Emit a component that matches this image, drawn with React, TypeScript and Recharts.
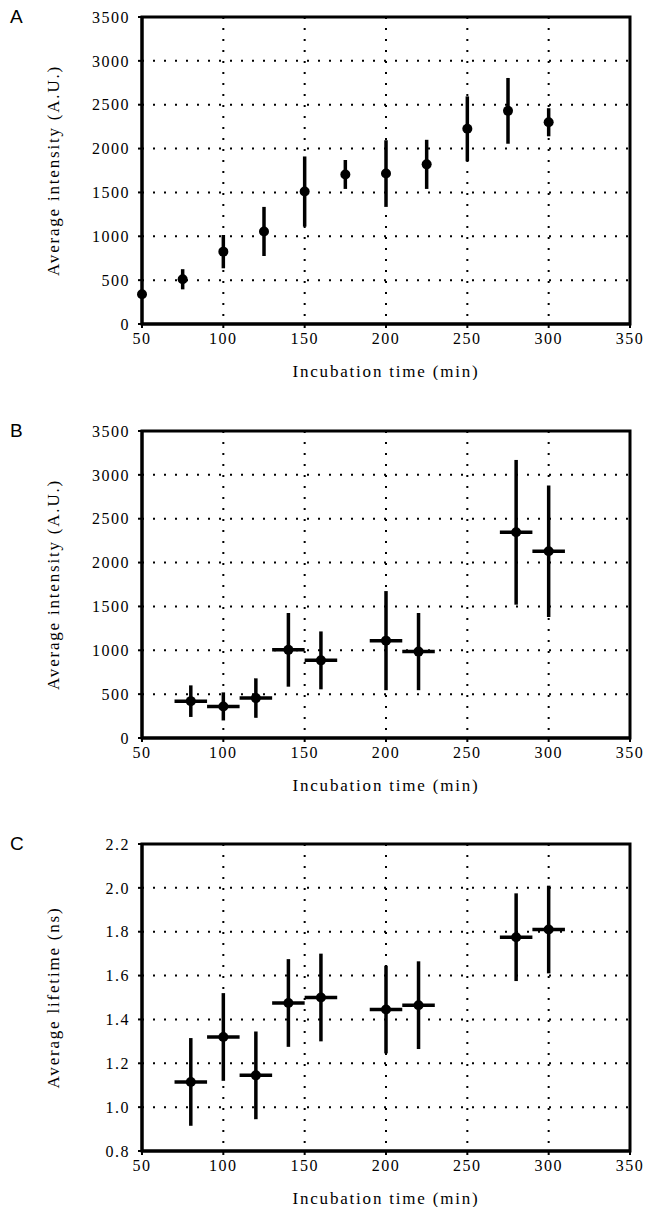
import {
  CartesianGrid,
  ErrorBar,
  ReferenceArea,
  Scatter,
  ScatterChart,
  XAxis,
  YAxis,
} from "recharts";

const SERIF = "Liberation Serif";
const SANS = "Liberation Sans";

const X_TICKS = [50, 100, 150, 200, 250, 300, 350];
const INTENSITY_TICKS = [0, 500, 1000, 1500, 2000, 2500, 3000, 3500];
const LIFETIME_TICKS = [0.8, 1.0, 1.2, 1.4, 1.6, 1.8, 2.0, 2.2];

// panel A
const timeA = [50, 75, 100, 125, 150, 175, 200, 225, 250, 275, 300];
const intensityA = [340, 510, 825, 1055, 1510, 1705, 1715, 1820, 2225, 2430, 2300];
const intensityErrA = [0, 115, 190, 280, 400, 165, 380, 280, 370, 375, 160];

// panels B and C share the same time bins
const timeBC = [80, 100, 120, 140, 160, 200, 220, 280, 300];
const timeErrBC = [10, 10, 10, 10, 10, 10, 10, 10, 10];
const intensityB = [420, 360, 455, 1005, 885, 1110, 985, 2345, 2130];
const intensityErrB = [180, 160, 225, 420, 330, 565, 440, 825, 750];
const lifetimeC = [1.115, 1.32, 1.145, 1.475, 1.5, 1.445, 1.465, 1.775, 1.81];
const lifetimeErrC = [0.2, 0.2, 0.2, 0.2, 0.2, 0.2, 0.2, 0.2, 0.2];

type Row = { x: number; y: number; ey: number; ex?: number };

const rowsA: Row[] = timeA.map((x, i) => ({ x, y: intensityA[i], ey: intensityErrA[i] }));
const rowsB: Row[] = timeBC.map((x, i) => ({
  x,
  y: intensityB[i],
  ey: intensityErrB[i],
  ex: timeErrBC[i],
}));
const rowsC: Row[] = timeBC.map((x, i) => ({
  x,
  y: lifetimeC[i],
  ey: lifetimeErrC[i],
  ex: timeErrBC[i],
}));

const tickStyle = { fill: "#000", fontSize: 16, fontFamily: SERIF, letterSpacing: 1.5 };
const titleStyle = { fill: "#000", fontSize: 17, fontFamily: SERIF, letterSpacing: 1.8 };

function Dot(props: any) {
  return <circle cx={props.cx} cy={props.cy} r={5} fill="#000" />;
}

function Panel({
  top,
  letter,
  rows,
  yTicks,
  yLabel,
  withX,
  fmt,
}: {
  top: number;
  letter: string;
  rows: Row[];
  yTicks: number[];
  yLabel: string;
  withX: boolean;
  fmt?: (v: number) => string;
}) {
  const yMin = yTicks[0];
  const yMax = yTicks[yTicks.length - 1];
  return (
    <div style={{ position: "absolute", left: 0, top, width: 647, height: 380 }}>
      <div
        style={{
          position: "absolute",
          left: 10,
          top: 6,
          fontFamily: SANS,
          fontSize: 19,
          lineHeight: "22px",
        }}
      >
        {letter}
      </div>
      <ScatterChart width={647} height={380} margin={{ top: 17, right: 17, bottom: 0, left: 0 }}>
        <CartesianGrid stroke="#000" strokeWidth={2} strokeDasharray="2 9" />
        <XAxis
          type="number"
          dataKey="x"
          domain={[50, 350]}
          ticks={X_TICKS}
          interval={0}
          height={56}
          tickSize={4}
          tickMargin={5}
          axisLine={{ stroke: "#000", strokeWidth: 3 }}
          tickLine={{ stroke: "#000", strokeWidth: 2 }}
          tick={tickStyle}
          label={{
            value: "Incubation time (min)",
            position: "insideBottom",
            offset: 3,
            style: titleStyle,
          }}
        />
        <YAxis
          type="number"
          dataKey="y"
          domain={[yMin, yMax]}
          ticks={yTicks}
          interval={0}
          width={142}
          tickSize={4}
          tickMargin={8}
          tickFormatter={fmt}
          axisLine={{ stroke: "#000", strokeWidth: 3 }}
          tickLine={{ stroke: "#000", strokeWidth: 2 }}
          tick={tickStyle}
          label={{
            value: yLabel,
            angle: -90,
            position: "insideLeft",
            offset: 53,
            style: { ...titleStyle, textAnchor: "middle" },
          }}
        />
        <ReferenceArea
          x1={50}
          x2={350}
          y1={yMin}
          y2={yMax}
          fill="none"
          fillOpacity={0}
          stroke="#000"
          strokeWidth={3}
        />
        <Scatter data={rows} fill="#000" shape={Dot} isAnimationActive={false}>
          <ErrorBar dataKey="ey" direction="y" width={0} stroke="#000" strokeWidth={3.5} />
          {withX && (
            <ErrorBar dataKey="ex" direction="x" width={0} stroke="#000" strokeWidth={3.5} />
          )}
        </Scatter>
      </ScatterChart>
    </div>
  );
}

export default function App() {
  return (
    <div
      style={{
        position: "absolute",
        left: 0,
        top: 0,
        width: 647,
        height: 1210,
        background: "#fff",
      }}
    >
      <Panel
        top={0}
        letter="A"
        rows={rowsA}
        yTicks={INTENSITY_TICKS}
        yLabel="Average intensity (A.U.)"
        withX={false}
      />
      <Panel
        top={414}
        letter="B"
        rows={rowsB}
        yTicks={INTENSITY_TICKS}
        yLabel="Average intensity (A.U.)"
        withX
      />
      <Panel
        top={827}
        letter="C"
        rows={rowsC}
        yTicks={LIFETIME_TICKS}
        yLabel="Average lifetime (ns)"
        withX
        fmt={(v: number) => v.toFixed(1)}
      />
    </div>
  );
}
